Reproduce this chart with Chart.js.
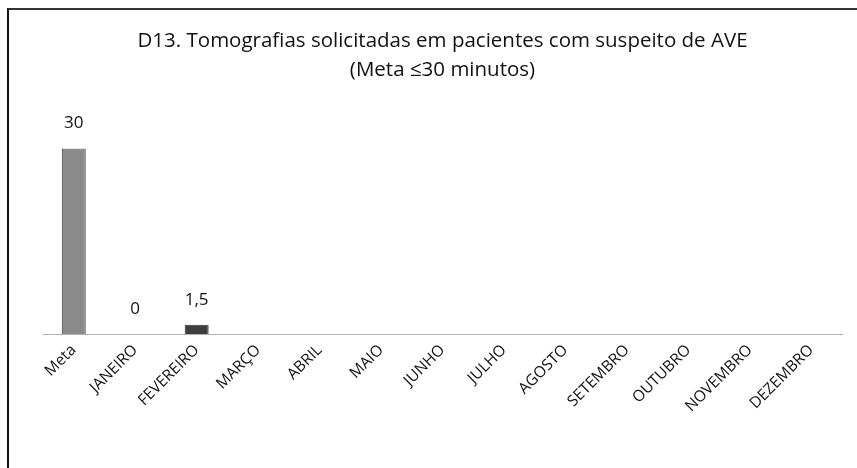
<!DOCTYPE html>
<html lang="pt">
<head>
  <meta charset="UTF-8" />
  <title>D13 - Tomografias solicitadas</title>
  <script src="https://cdn.jsdelivr.net/npm/chart.js"></script>
  <style>
    body {
      margin: 0;
      background: #fff;
    }
    .frame {
      position: absolute;
      left: 7px;
      top: 8px;
      width: 900px;
      height: 500px;
      border-left: 2px solid #111;
      border-top: 2px solid #333;
    }
    .wrap {
      position: absolute;
      left: 0;
      top: 0;
      width: 857px;
      height: 468px;
    }
  </style>
</head>
<body>

<div class="frame"></div>
<div class="wrap"><canvas id="chart"></canvas></div>

<script>
  const categories = ["Meta", "JANEIRO", "FEVEREIRO", "MARÇO", "ABRIL", "MAIO", "JUNHO",
    "JULHO", "AGOSTO", "SETEMBRO", "OUTUBRO", "NOVEMBRO", "DEZEMBRO"];
  const values = [30, 0, 1.5, null, null, null, null, null, null, null, null, null, null];
  const titleLines = ["D13. Tomografias solicitadas em pacientes com suspeito de AVE", "(Meta ≤30 minutos)"];

  const FONT = "'Open Sans', sans-serif";

  // value labels above each bar, written the Portuguese way (1,5)
  const valueLabels = {
    id: 'valueLabels',
    afterDatasetsDraw(chart) {
      const ctx = chart.ctx;
      const meta = chart.getDatasetMeta(0);
      ctx.save();
      ctx.font = "17px " + FONT;
      ctx.fillStyle = '#111';
      ctx.textAlign = 'center';
      ctx.textBaseline = 'middle';
      meta.data.forEach((bar, i) => {
        const v = values[i];
        if (v === null) return;
        ctx.fillText(String(v).replace('.', ','), bar.x, bar.y - 25);
      });
      ctx.restore();
    }
  };

  new Chart(document.getElementById('chart'), {
    type: 'bar',
    data: {
      labels: categories,
      datasets: [{
        data: values,
        backgroundColor: values.map(v => v !== null && v < 5 ? '#3e3e3e' : '#8a8a8a'),
        borderColor: '#333',
        borderWidth: 1,
        barPercentage: 0.39,
        categoryPercentage: 1
      }]
    },
    options: {
      responsive: true,
      maintainAspectRatio: false,
      animation: false,
      layout: { padding: { left: 43, right: 15, top: 0, bottom: 0 } },
      plugins: {
        legend: { display: false },
        tooltip: { enabled: false },
        title: {
          display: true,
          text: titleLines,
          color: '#111',
          font: { family: FONT, size: 20.5, weight: 'normal', lineHeight: 1.4 },
          padding: { top: 27, bottom: 64 }
        }
      },
      scales: {
        x: {
          grid: { display: false },
          border: { display: true, color: '#b0b0b0', width: 1 },
          ticks: {
            color: '#111',
            font: { family: FONT, size: 15.5 },
            minRotation: 45,
            maxRotation: 45,
            padding: -1,
            labelOffset: 0,
            autoSkip: false
          },
          afterFit(scale) { scale.height = 134; }
        },
        y: {
          display: false,
          min: 0,
          max: 30
        }
      }
    },
    plugins: [valueLabels]
  });
</script>

</body>
</html>
